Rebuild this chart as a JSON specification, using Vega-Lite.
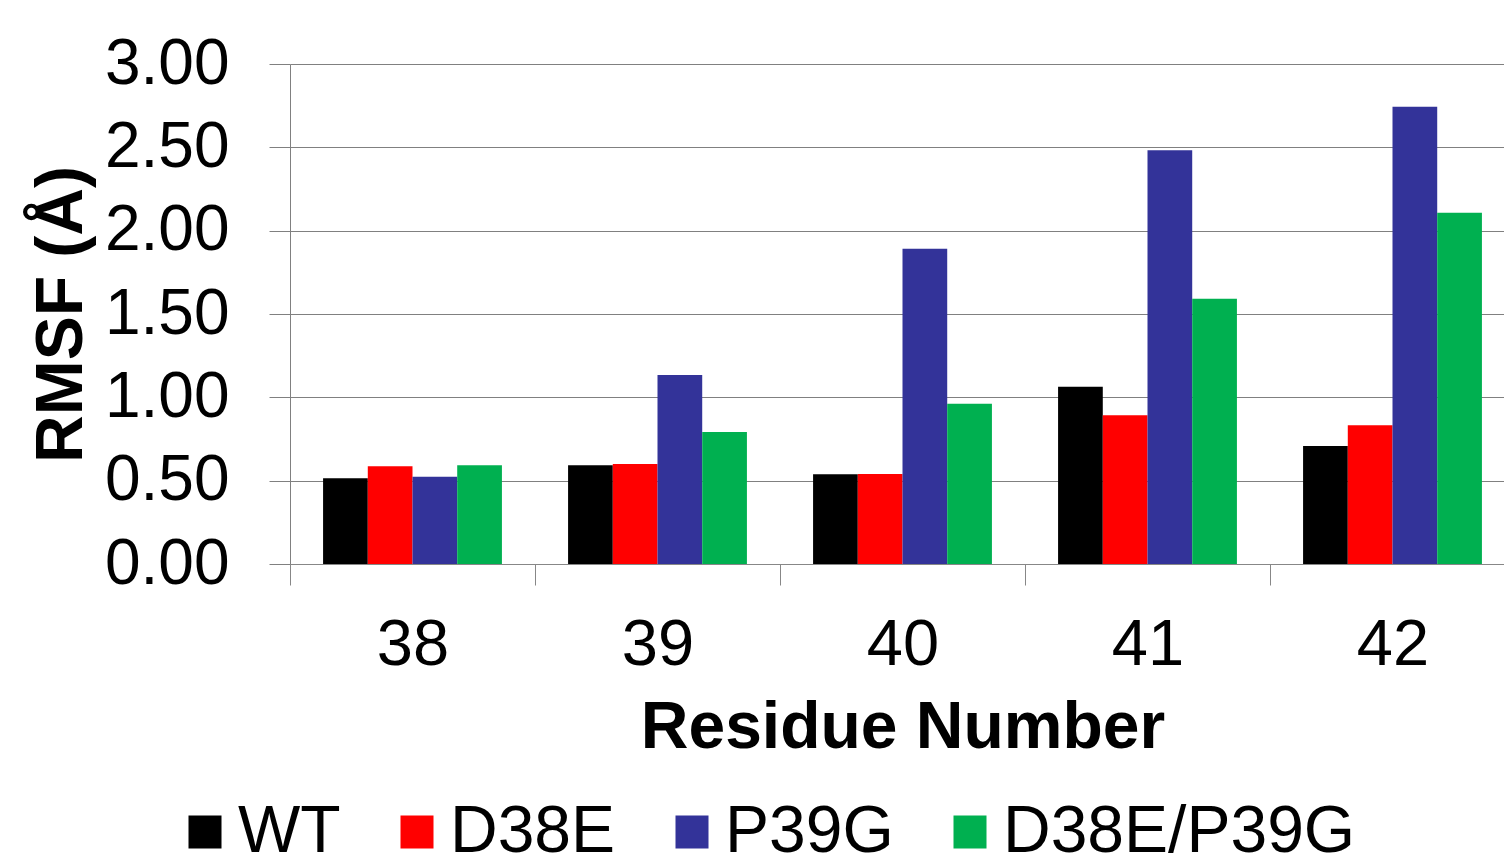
{
  "$schema": "https://vega.github.io/schema/vega-lite/v6.json",
  "width": 1214,
  "height": 500,
  "autosize": {"type": "none"},
  "padding": {"left": 290, "top": 64, "right": 0, "bottom": 298},
  "background": "white",
  "config": {"view": {"stroke": null}, "font": "Liberation Sans"},
  "data": {"values": [
    {"residue": "38", "variant": "WT", "rmsf": 0.514},
    {"residue": "38", "variant": "D38E", "rmsf": 0.586},
    {"residue": "38", "variant": "P39G", "rmsf": 0.524},
    {"residue": "38", "variant": "D38E/P39G", "rmsf": 0.592},
    {"residue": "39", "variant": "WT", "rmsf": 0.592},
    {"residue": "39", "variant": "D38E", "rmsf": 0.600},
    {"residue": "39", "variant": "P39G", "rmsf": 1.134},
    {"residue": "39", "variant": "D38E/P39G", "rmsf": 0.792},
    {"residue": "40", "variant": "WT", "rmsf": 0.538},
    {"residue": "40", "variant": "D38E", "rmsf": 0.540},
    {"residue": "40", "variant": "P39G", "rmsf": 1.892},
    {"residue": "40", "variant": "D38E/P39G", "rmsf": 0.962},
    {"residue": "41", "variant": "WT", "rmsf": 1.064},
    {"residue": "41", "variant": "D38E", "rmsf": 0.892},
    {"residue": "41", "variant": "P39G", "rmsf": 2.482},
    {"residue": "41", "variant": "D38E/P39G", "rmsf": 1.592},
    {"residue": "42", "variant": "WT", "rmsf": 0.708},
    {"residue": "42", "variant": "D38E", "rmsf": 0.832},
    {"residue": "42", "variant": "P39G", "rmsf": 2.743},
    {"residue": "42", "variant": "D38E/P39G", "rmsf": 2.107}
  ]},
  "mark": {"type": "bar"},
  "encoding": {
    "x": {
      "field": "residue",
      "type": "ordinal",
      "scale": {"range": [0, 1225], "paddingInner": 0.27, "paddingOuter": 0.135},
      "axis": {
        "title": "Residue Number",
        "labelAngle": 0,
        "bandPosition": 0,
        "tickOffset": -33,
        "labelOffset": 33,
        "grid": false,
        "domainColor": "#878787",
        "tickColor": "#878787",
        "tickSize": 21,
        "labelFontSize": 65,
        "labelPadding": 28,
        "labelColor": "black",
        "titleFontSize": 66,
        "titleFontWeight": "bold",
        "titleColor": "black",
        "titlePadding": 18
      }
    },
    "xOffset": {"field": "variant", "sort": ["WT", "D38E", "P39G", "D38E/P39G"]},
    "y": {
      "field": "rmsf",
      "type": "quantitative",
      "scale": {"domain": [0, 3]},
      "axis": {
        "values": [0, 0.5, 1, 1.5, 2, 2.5, 3],
        "format": ".2f",
        "grid": true,
        "gridColor": "#808080",
        "domainColor": "#808080",
        "tickColor": "#808080",
        "tickSize": 21,
        "labelFontSize": 64,
        "labelPadding": 40,
        "labelColor": "black",
        "title": "RMSF (Å)",
        "titleFontSize": 66,
        "titleFontWeight": "bold",
        "titleColor": "black",
        "titlePadding": 9
      }
    },
    "color": {
      "field": "variant",
      "sort": ["WT", "D38E", "P39G", "D38E/P39G"],
      "scale": {"domain": ["WT", "D38E", "P39G", "D38E/P39G"], "range": ["#000000", "#FF0000", "#333399", "#00B050"]},
      "legend": {
        "orient": "none",
        "legendX": -118,
        "legendY": 735,
        "direction": "horizontal",
        "title": null,
        "symbolType": "square",
        "symbolSize": 1089,
        "symbolStrokeWidth": 0,
        "symbolOpacity": 1,
        "labelFontSize": 66,
        "labelOffset": 0,
        "columnPadding": 43,
        "labelColor": "black",
        "labelLimit": 0
      }
    }
  }
}
